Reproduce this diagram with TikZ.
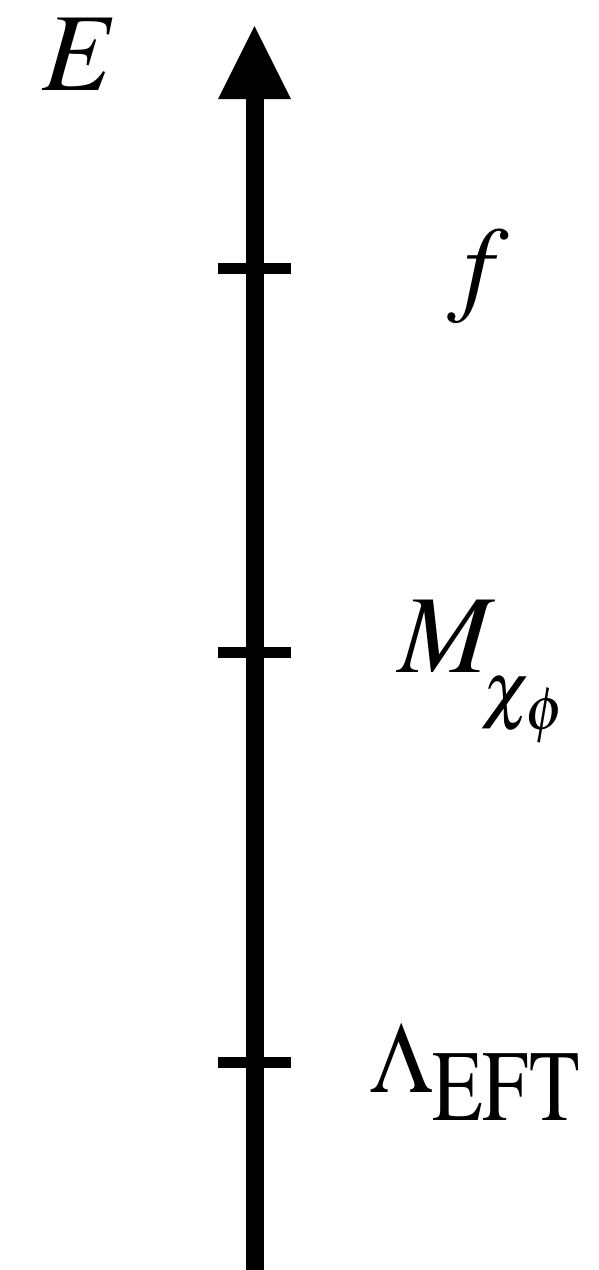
\documentclass[tikz,border=0pt]{standalone}
\usepackage{mathptmx}
\usepackage{graphicx}
\begin{document}
\begin{tikzpicture}[x=1pt,y=-1pt,
  axisline/.style={line width=18pt},
  tickline/.style={line width=11pt},
  lbl/.style={inner sep=0pt,outer sep=0pt,anchor=base west}]
\useasboundingbox (0,0) rectangle (599,1270);
\coordinate (bot) at (254.5,1275);
\coordinate (base) at (254.5,99);
\coordinate (tip) at (254.5,26);
\coordinate (bl) at (218,99);
\coordinate (br) at (291,99);
\draw[axisline] (bot) -- (base);
\fill (bl) -- (tip) -- (br) -- cycle;
\foreach \n/\y in {t1/268.5,t2/652,t3/1062}{
  \coordinate (\n l) at (218,\y);
  \coordinate (\n r) at (291,\y);
  \draw[tickline] (\n l) -- (\n r);
}
\node[lbl] (E) at (42,90) {\fontsize{111}{111}\selectfont$E$};
\node[lbl] (f) at (447,301) {\fontsize{107}{107}\selectfont$f$};
\node[lbl] (M) at (398,672) {\fontsize{111}{111}\selectfont$M$\kern-13pt\raisebox{-42pt}{\fontsize{102}{102}\selectfont$\scriptstyle\chi_\phi$}};
\node[lbl] (L) at (370,1092) {\fontsize{101}{101}\selectfont\scalebox{0.9}[1]{$\Lambda$}\raisebox{-28pt}{\scalebox{0.82}[1]{$\mathrm{EFT}$}}};
\end{tikzpicture}
\end{document}
